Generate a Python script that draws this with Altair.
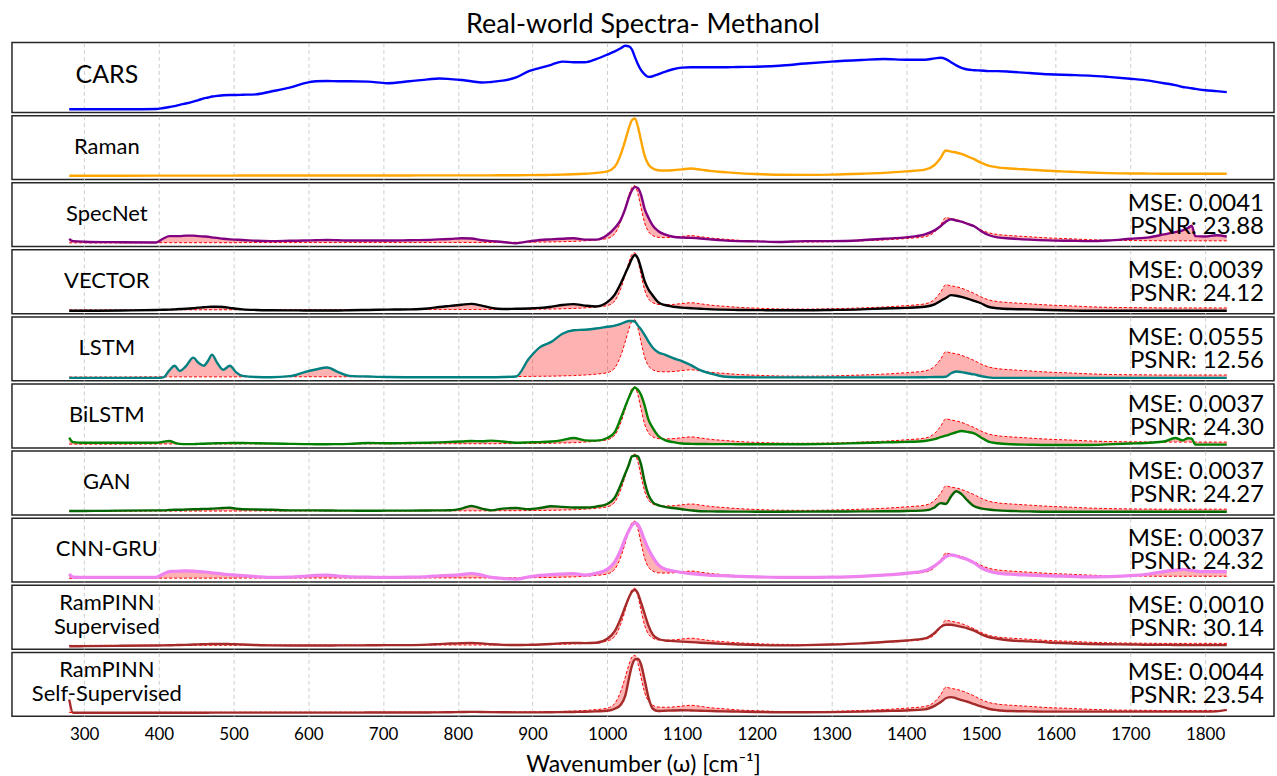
import altair as alt
import pandas as pd

X = [280, 285, 300, 350, 396, 406, 414, 421, 428, 436,
     446, 453, 460, 466, 471, 478, 486, 495, 503, 512,
     530, 550, 575, 595, 610, 625, 640, 655, 680, 705,
     735, 760, 775, 790, 805, 818, 832, 845, 860, 878,
     895, 910, 925, 940, 955, 970, 985, 1000, 1010, 1018,
     1024, 1029, 1033, 1037, 1041, 1045, 1050, 1055, 1061, 1068,
     1077, 1088, 1100, 1112, 1125, 1140, 1155, 1175, 1200, 1230,
     1265, 1300, 1340, 1370, 1400, 1425, 1438, 1446, 1453, 1460,
     1467, 1474, 1482, 1491, 1500, 1510, 1522, 1540, 1565, 1590,
     1620, 1645, 1670, 1700, 1725, 1745, 1760, 1770, 1777, 1782,
     1787, 1800, 1815, 1829]

RAMAN = [0.015, 0.015, 0.015, 0.015, 0.018, 0.018, 0.018, 0.018, 0.018, 0.018,
         0.018, 0.018, 0.018, 0.018, 0.018, 0.018, 0.018, 0.018, 0.018, 0.02,
         0.02, 0.02, 0.02, 0.02, 0.02, 0.02, 0.02, 0.02, 0.02, 0.02,
         0.02, 0.022, 0.022, 0.022, 0.022, 0.022, 0.022, 0.022, 0.024, 0.024,
         0.026, 0.028, 0.03, 0.035, 0.04, 0.05, 0.065, 0.09, 0.17, 0.38,
         0.62, 0.84, 0.97, 1.0, 0.86, 0.63, 0.36, 0.21, 0.14, 0.11,
         0.105, 0.11, 0.125, 0.14, 0.12, 0.095, 0.08, 0.06, 0.045, 0.033,
         0.03, 0.035, 0.05, 0.065, 0.09, 0.12, 0.2, 0.32, 0.45, 0.43,
         0.415, 0.39, 0.35, 0.3, 0.24, 0.19, 0.16, 0.14, 0.12, 0.1,
         0.085, 0.07, 0.06, 0.055, 0.052, 0.05, 0.05, 0.05, 0.05, 0.05,
         0.05, 0.05, 0.05, 0.05]

CARS = [0.0, 0.0, 0.0, 0.0, 0.003, 0.02, 0.035, 0.05, 0.07, 0.09,
        0.12, 0.145, 0.17, 0.185, 0.2, 0.21, 0.22, 0.225, 0.225, 0.228,
        0.235, 0.28, 0.34, 0.41, 0.44, 0.445, 0.44, 0.44, 0.435, 0.41,
        0.44, 0.47, 0.485, 0.475, 0.46, 0.44, 0.42, 0.43, 0.45, 0.5,
        0.6, 0.65, 0.7, 0.75, 0.74, 0.74, 0.79, 0.86, 0.91, 0.96,
        1.0, 0.99, 0.94, 0.82, 0.71, 0.62, 0.55, 0.51, 0.52, 0.55,
        0.59, 0.63, 0.655, 0.66, 0.66, 0.66, 0.66, 0.665, 0.67, 0.685,
        0.72, 0.75, 0.775, 0.79, 0.78, 0.78, 0.8, 0.81, 0.79, 0.74,
        0.69, 0.65, 0.625, 0.615, 0.61, 0.6, 0.6, 0.59, 0.57, 0.55,
        0.54, 0.53, 0.51, 0.48, 0.45, 0.41, 0.38, 0.35, 0.34, 0.33,
        0.32, 0.3, 0.285, 0.27]

SPECNET = [0.085, 0.045, 0.035, 0.025, 0.02, 0.09, 0.13, 0.13, 0.13, 0.14,
           0.14, 0.13, 0.125, 0.12, 0.11, 0.1, 0.085, 0.075, 0.07, 0.065,
           0.05, 0.045, 0.05, 0.055, 0.06, 0.065, 0.06, 0.055, 0.055, 0.055,
           0.06, 0.065, 0.075, 0.08, 0.095, 0.09, 0.06, 0.045, 0.03, 0.008,
           0.04, 0.065, 0.075, 0.085, 0.095, 0.07, 0.07, 0.15, 0.27, 0.41,
           0.6, 0.8, 0.92, 0.975, 0.96, 0.85, 0.6, 0.45, 0.31, 0.22,
           0.16, 0.12, 0.105, 0.1, 0.09, 0.072, 0.057, 0.045, 0.04, 0.03,
           0.045, 0.045, 0.06, 0.085, 0.11, 0.16, 0.23, 0.3, 0.38, 0.42,
           0.4, 0.38, 0.34, 0.3, 0.22, 0.15, 0.11, 0.09, 0.07, 0.057,
           0.05, 0.045, 0.055, 0.085, 0.11, 0.16, 0.2, 0.23, 0.27, 0.31,
           0.13, 0.125, 0.145, 0.125]

VECTOR = [0.0, 0.0, 0.0, 0.005, 0.015, 0.018, 0.02, 0.025, 0.03, 0.035,
          0.045, 0.055, 0.062, 0.068, 0.07, 0.07, 0.065, 0.05, 0.035, 0.025,
          0.015, 0.01, 0.008, 0.006, 0.005, 0.005, 0.006, 0.01, 0.015, 0.02,
          0.025, 0.04, 0.065, 0.085, 0.105, 0.12, 0.09, 0.05, 0.03, 0.035,
          0.04, 0.05, 0.07, 0.1, 0.115, 0.09, 0.075, 0.15, 0.28, 0.47,
          0.64, 0.78, 0.9, 0.96, 0.9, 0.74, 0.51, 0.37, 0.26, 0.15,
          0.1, 0.07, 0.055, 0.045, 0.035, 0.025, 0.02, 0.015, 0.012, 0.01,
          0.01, 0.015, 0.025, 0.04, 0.05, 0.07, 0.11, 0.17, 0.22, 0.27,
          0.26, 0.24, 0.21, 0.17, 0.13, 0.07, 0.045, 0.03, 0.025, 0.015,
          0.005, 0.0, 0.0, 0.0, 0.0, 0.0, 0.0, 0.0, 0.0, 0.0,
          0.0, 0.0, 0.0, 0.0]

LSTM = [0.0, 0.0, 0.0, 0.0, 0.0, 0.01, 0.13, 0.21, 0.12, 0.2,
        0.35, 0.26, 0.21, 0.3, 0.4, 0.26, 0.14, 0.21, 0.1, 0.035,
        0.015, 0.012, 0.03, 0.1, 0.145, 0.18, 0.1, 0.035, 0.024, 0.015,
        0.012, 0.012, 0.012, 0.012, 0.012, 0.012, 0.012, 0.012, 0.015, 0.025,
        0.33, 0.53, 0.62, 0.76, 0.82, 0.83, 0.85, 0.88, 0.9, 0.93,
        0.96, 0.98, 0.98, 0.97, 0.9, 0.84, 0.74, 0.63, 0.52, 0.44,
        0.4, 0.34, 0.29, 0.22, 0.13, 0.07, 0.025, 0.012, 0.01, 0.01,
        0.01, 0.01, 0.01, 0.01, 0.01, 0.012, 0.015, 0.015, 0.02, 0.08,
        0.11, 0.1, 0.08, 0.06, 0.03, 0.01, 0.0, 0.0, 0.0, 0.0,
        0.0, 0.0, 0.0, 0.0, 0.0, 0.0, 0.0, 0.0, 0.0, 0.0,
        0.0, 0.0, 0.0, 0.0]

BILSTM = [0.127, 0.05, 0.04, 0.04, 0.04, 0.055, 0.07, 0.04, 0.02, 0.015,
          0.015, 0.02, 0.022, 0.025, 0.028, 0.03, 0.032, 0.034, 0.035, 0.035,
          0.03, 0.025, 0.02, 0.015, 0.014, 0.014, 0.015, 0.02, 0.035, 0.03,
          0.035, 0.04, 0.045, 0.053, 0.06, 0.068, 0.065, 0.075, 0.06, 0.04,
          0.045, 0.05, 0.06, 0.085, 0.12, 0.08, 0.075, 0.12, 0.22, 0.46,
          0.66, 0.82, 0.93, 0.99, 0.95, 0.87, 0.68, 0.44, 0.29, 0.16,
          0.085, 0.05, 0.025, 0.02, 0.018, 0.016, 0.015, 0.014, 0.014, 0.012,
          0.014, 0.02, 0.035, 0.045, 0.053, 0.07, 0.1, 0.135, 0.16, 0.19,
          0.22, 0.24, 0.225, 0.2, 0.13, 0.06, 0.03, 0.012, 0.005, 0.0,
          0.0, 0.0, 0.01, 0.025, 0.04, 0.06, 0.12, 0.08, 0.115, 0.11,
          0.007, 0.007, 0.007, 0.007]

GAN = [0.02, 0.02, 0.02, 0.025, 0.03, 0.03, 0.035, 0.04, 0.04, 0.045,
       0.05, 0.05, 0.055, 0.055, 0.06, 0.065, 0.07, 0.075, 0.06, 0.05,
       0.045, 0.04, 0.03, 0.03, 0.03, 0.028, 0.025, 0.025, 0.022, 0.025,
       0.025, 0.028, 0.03, 0.032, 0.06, 0.105, 0.06, 0.03, 0.06, 0.07,
       0.05, 0.07, 0.1, 0.09, 0.08, 0.08, 0.095, 0.14, 0.25, 0.47,
       0.66, 0.82, 0.96, 0.97, 0.96, 0.83, 0.52, 0.3, 0.17, 0.12,
       0.09, 0.07, 0.05, 0.03, 0.015, 0.012, 0.01, 0.008, 0.007, 0.007,
       0.008, 0.01, 0.012, 0.015, 0.02, 0.03, 0.08, 0.155, 0.14, 0.27,
       0.36, 0.31, 0.2, 0.1, 0.065, 0.045, 0.03, 0.02, 0.012, 0.007,
       0.007, 0.007, 0.007, 0.007, 0.007, 0.007, 0.007, 0.007, 0.007, 0.007,
       0.007, 0.007, 0.007, 0.007]

CNNGRU = [0.088, 0.035, 0.03, 0.03, 0.03, 0.09, 0.13, 0.135, 0.14, 0.143,
          0.14, 0.13, 0.125, 0.12, 0.11, 0.1, 0.088, 0.076, 0.07, 0.06,
          0.045, 0.03, 0.035, 0.05, 0.065, 0.07, 0.055, 0.04, 0.035, 0.03,
          0.035, 0.045, 0.058, 0.065, 0.08, 0.098, 0.07, 0.03, 0.015, 0.0,
          0.04, 0.065, 0.08, 0.088, 0.095, 0.07, 0.1, 0.17, 0.3, 0.5,
          0.7, 0.84, 0.93, 0.97, 0.94, 0.84, 0.67, 0.52, 0.38, 0.25,
          0.175, 0.14, 0.115, 0.095, 0.08, 0.065, 0.06, 0.05, 0.04, 0.032,
          0.03, 0.035, 0.05, 0.07, 0.1, 0.144, 0.23, 0.31, 0.39, 0.42,
          0.4, 0.37, 0.34, 0.28, 0.2, 0.14, 0.105, 0.085, 0.07, 0.058,
          0.05, 0.04, 0.045, 0.06, 0.09, 0.13, 0.156, 0.17, 0.16, 0.15,
          0.14, 0.13, 0.13, 0.13]

RAMPINN_SUP = [0.0, 0.0, 0.002, 0.008, 0.014, 0.015, 0.017, 0.02, 0.022, 0.025,
               0.03, 0.033, 0.036, 0.038, 0.04, 0.04, 0.04, 0.038, 0.035, 0.03,
               0.022, 0.016, 0.014, 0.014, 0.014, 0.014, 0.015, 0.015, 0.017, 0.02,
               0.02, 0.028, 0.038, 0.048, 0.055, 0.058, 0.05, 0.035, 0.025, 0.022,
               0.025, 0.03, 0.04, 0.055, 0.058, 0.055, 0.06, 0.13, 0.26, 0.48,
               0.68, 0.84, 0.94, 0.97, 0.91, 0.76, 0.56, 0.36, 0.2, 0.13,
               0.1, 0.09, 0.08, 0.072, 0.062, 0.052, 0.042, 0.032, 0.022, 0.015,
               0.02, 0.03, 0.05, 0.075, 0.1, 0.135, 0.23, 0.33, 0.37, 0.37,
               0.355, 0.335, 0.31, 0.27, 0.21, 0.16, 0.13, 0.1, 0.085, 0.065,
               0.05, 0.04, 0.035, 0.03, 0.025, 0.025, 0.022, 0.022, 0.02, 0.02,
               0.02, 0.02, 0.02, 0.02]

RAMPINN_SELF = [0.24, 0.012, 0.012, 0.012, 0.012, 0.012, 0.012, 0.012, 0.012, 0.012,
                0.012, 0.012, 0.012, 0.012, 0.013, 0.013, 0.013, 0.013, 0.013, 0.013,
                0.013, 0.013, 0.013, 0.013, 0.013, 0.013, 0.013, 0.013, 0.014, 0.015,
                0.015, 0.016, 0.018, 0.02, 0.024, 0.026, 0.025, 0.022, 0.02, 0.018,
                0.018, 0.018, 0.02, 0.022, 0.025, 0.028, 0.035, 0.045, 0.08, 0.15,
                0.3, 0.6, 0.82, 0.93, 0.94, 0.85, 0.58, 0.28, 0.08, 0.04,
                0.045, 0.05, 0.053, 0.05, 0.045, 0.04, 0.035, 0.03, 0.025, 0.02,
                0.02, 0.022, 0.03, 0.04, 0.05, 0.07, 0.13, 0.19, 0.26, 0.28,
                0.26, 0.23, 0.2, 0.16, 0.12, 0.08, 0.055, 0.04, 0.035, 0.03,
                0.03, 0.03, 0.03, 0.03, 0.03, 0.03, 0.03, 0.03, 0.03, 0.03,
                0.03, 0.03, 0.035, 0.06]

TICKS = [300, 400, 500, 600, 700, 800, 900, 1000, 1100, 1200, 1300, 1400, 1500, 1600, 1700, 1800]

METHODS = ["SpecNet", "VECTOR", "LSTM", "BiLSTM", "GAN", "CNN-GRU",
           "RamPINN\nSupervised", "RamPINN\nSelf-Supervised"]
MSE = ["0.0041", "0.0039", "0.0555", "0.0037", "0.0037", "0.0037", "0.0010", "0.0044"]
PSNR = ["23.88", "24.12", "12.56", "24.30", "24.27", "24.32", "30.14", "23.54"]

df = pd.DataFrame({
    "x": X, "truth": RAMAN, "CARS": CARS, "RAMAN": RAMAN,
    "SPECNET": SPECNET, "VECTOR": VECTOR, "LSTM": LSTM, "BILSTM": BILSTM,
    "GAN": GAN, "CNNGRU": CNNGRU, "RAMPINN_SUP": RAMPINN_SUP,
    "RAMPINN_SELF": RAMPINN_SELF,
})

FONT = "Lato"
W = 1264
XDOM = [203.4, 1892.2]
YDOM = [-0.05, 1.05]
yscale = alt.Scale(domain=YDOM, nice=False, zero=False)


def xenc(bottom):
    common = dict(values=TICKS, grid=True, gridDash=[4, 3], gridColor="#c8c8c8",
                  gridWidth=0.9, ticks=False, tickSize=0, domain=False)
    if bottom:
        axis = alt.Axis(labels=True, labelFontSize=17, labelFont=FONT, format="d",
                        labelColor="black", labelPadding=10,
                        title="Wavenumber (ω) [cm⁻¹]", titleFont=FONT,
                        titleFontSize=23, titleFontWeight="normal",
                        titleColor="black", titlePadding=11, **common)
    else:
        axis = alt.Axis(labels=False, labelPadding=0, title=None, **common)
    return alt.X("x:Q", scale=alt.Scale(domain=XDOM, nice=False, zero=False), axis=axis)


def text_layer(txt, x, y, size, align="center"):
    return alt.Chart(pd.DataFrame({"t": [txt]})).mark_text(
        font=FONT, fontSize=size, color="black", align=align, baseline="middle"
    ).encode(text="t:N", x=alt.value(x), y=alt.value(y))


def panel(field, color, sw, label_lines, h, bottom=False, truth=True, metrics=None, label_size=22):
    base = alt.Chart(df).encode(x=xenc(bottom))
    layers = []
    if truth:
        layers.append(base.mark_area(color="#ff0000", opacity=0.3, interpolate="monotone").encode(
            y=alt.Y(f"{field}:Q", scale=yscale, axis=None), y2=alt.Y2("truth:Q")))
        layers.append(base.mark_line(color="#ff0000", strokeWidth=1, strokeDash=[3, 2],
                                     interpolate="monotone").encode(
            y=alt.Y("truth:Q", scale=yscale, axis=None)))
    layers.append(base.mark_line(color=color, strokeWidth=sw, interpolate="monotone",
                                 strokeJoin="round").encode(
        y=alt.Y(f"{field}:Q", scale=yscale, axis=None)))
    if len(label_lines) == 1:
        layers.append(text_layer(label_lines[0], 95, 31 if h < 70 else 33, label_size))
    else:
        layers.append(text_layer(label_lines[0], 95, 18, label_size))
        layers.append(text_layer(label_lines[1], 95, 42, label_size))
    if metrics is not None:
        layers.append(text_layer(f"MSE: {metrics[0]}", W - 10, 21, 24, align="right"))
        layers.append(text_layer(f"PSNR: {metrics[1]}", W - 10, 44, 24, align="right"))
    return alt.layer(*layers).properties(width=W, height=h)


COLORS = ["#800080", "#000000", "#008080", "#008000", "#006400", "#ee82ee", "#a52a2a", "#a52a2a"]
FIELDS = ["SPECNET", "VECTOR", "LSTM", "BILSTM", "GAN", "CNNGRU", "RAMPINN_SUP", "RAMPINN_SELF"]
WIDTHS = [2.4, 2.4, 2.4, 2.4, 2.4, 3.2, 2.4, 2.4]

panels = [
    panel("CARS", "#0000ff", 2.4, ["CARS"], 70, truth=False, label_size=25),
    panel("RAMAN", "#ffa500", 2.4, ["Raman"], 64, truth=False),
]
for i, (m, f, c, sw) in enumerate(zip(METHODS, FIELDS, COLORS, WIDTHS)):
    panels.append(panel(f, c, sw, m.split("\n"), 64, bottom=(i == len(METHODS) - 1),
                        metrics=(MSE[i], PSNR[i])))

chart = alt.vconcat(*panels, spacing=3.2, bounds="flush").properties(
    title=alt.TitleParams("Real-world Spectra- Methanol", fontSize=27, font=FONT,
                          fontWeight="normal", anchor="middle", offset=3, color="black"),
    padding={"left": 11, "top": 10, "right": 2, "bottom": 0},
    background="white",
).configure_view(stroke="#262626", strokeWidth=1.5)

chart.save("out.html", embed_options={"renderer": "svg", "actions": False})
